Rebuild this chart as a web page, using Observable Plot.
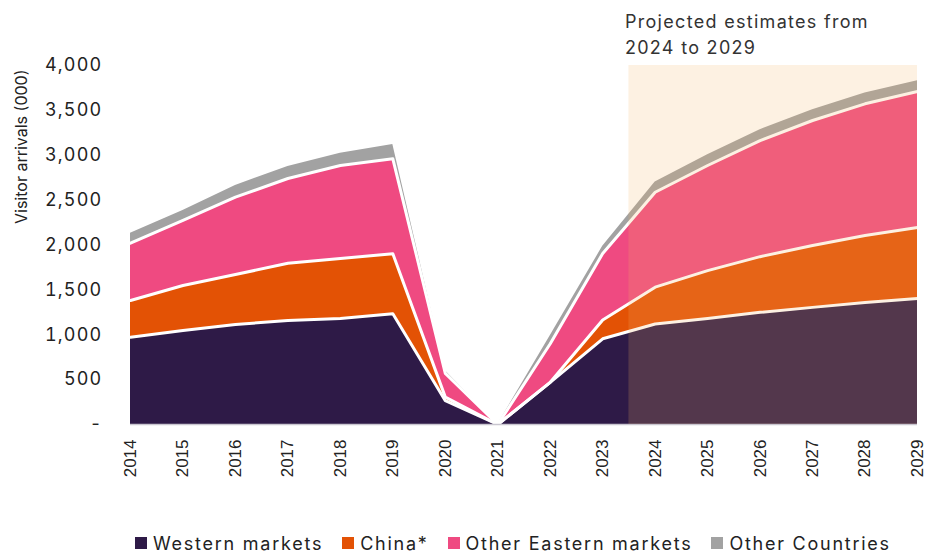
<!DOCTYPE html>
<html><head><meta charset="utf-8">
<script src="https://cdn.jsdelivr.net/npm/d3@7"></script>
<script src="https://cdn.jsdelivr.net/npm/@observablehq/plot@0.6"></script>
<style>
body{margin:0;background:#fff;font-family:Inter,"Open Sans",sans-serif;width:925px;height:553px;overflow:hidden;}
#chart{height:495px;}
#legend{display:flex;align-items:center;margin-top:38px;padding-left:135px;font-size:18px;letter-spacing:1.75px;color:#222;height:20px;}
.item{display:flex;align-items:center;margin-right:19px;}
.sw{width:12px;height:12px;margin-right:6px;display:inline-block;}
g[aria-label="y-axis tick label"] text{letter-spacing:1.2px;}
</style></head><body>
<div id="chart"></div>
<div id="legend"></div>
<script>
const years = [2014,2015,2016,2017,2018,2019,2020,2021,2022,2023,2024,2025,2026,2027,2028,2029];
const series = ["Western markets","China*","Other Eastern markets","Other Countries"];
const colors = ["#2E1A47","#E35205","#EF4A81","#A2A2A2"];
const western        = [973,1047,1114,1159,1181,1233,265,0,470,955,1120,1180,1250,1305,1360,1405];
const china          = [409,502,557,638,669,669,40,0,0,210,410,535,620,690,745,790];
const otherEastern   = [638,724,862,944,1036,1058,265,0,430,740,1058,1171,1294,1392,1468,1515];
const otherCountries = [111,111,130,134,137,160,30,0,90,80,115,120,120,120,120,120];
const yTicks = [0,500,1000,1500,2000,2500,3000,3500,4000];
const yLabel = ["Visitor arrivals (000)"];
const projection = [{start:2023.5, end:2029}];
const annotation = [{x:2023.5, y:4000, text:"Projected estimates from\n2024 to 2029"}];

const values = [western, china, otherEastern, otherCountries];
const data = series.flatMap((s,i) => years.map((yr,j) => ({year:yr, series:s, value:values[i][j]})));

const plot = Plot.plot({
  width:925, height:495,
  marginLeft:130, marginRight:8, marginTop:65, marginBottom:71,
  style:{fontFamily:"Inter, 'Open Sans', sans-serif", fontSize:"17px", color:"#222", background:"transparent", overflow:"visible"},
  x:{domain:[2014,2029], label:null},
  y:{domain:[0,4000], label:null},
  color:{domain:series, range:colors},
  marks:[
    Plot.areaY(data, {x:"year", y:"value", z:"series", fill:"series", order:series}),
    Plot.lineY(data.filter(d => d.series !== "Other Countries"),
      Plot.stackY2({x:"year", y:"value", z:"series", order:series, stroke:"white", strokeWidth:3})),
    Plot.ruleY([0], {stroke:"#c9c6d0", strokeWidth:1.5}),
    Plot.rect(projection, {x1:"start", x2:"end", y1:0, y2:4000, fill:"rgb(244,181,102)", fillOpacity:0.19}),
    Plot.axisX({ticks:years, tickFormat:d => String(d), tickRotate:-90, tickSize:0, tickPadding:15,
      fontSize:17, fontFamily:"'Liberation Sans', Arial, sans-serif", fill:"#222", label:null}),
    Plot.axisY({ticks:yTicks, tickFormat:d => d === 0 ? "-" : d3.format(",")(d), tickSize:0, tickPadding:28,
      fontSize:18, fill:"#222", label:null}),
    Plot.text(yLabel, {text:d => d, frameAnchor:"left", rotate:-90, dx:-109, dy:-21, fontSize:16, fill:"#222"}),
    Plot.text(annotation, {x:"x", y:"y", text:"text", textAnchor:"start", lineAnchor:"bottom", dx:-4, dy:-12,
      fontSize:18, lineHeight:1.4, fill:"#333"})
  ]
});
d3.select(plot).selectAll("text")
  .filter(function(){ return this.textContent.indexOf("Projected") === 0; })
  .style("letter-spacing", "1.3px");
document.getElementById("chart").appendChild(plot);

const legend = document.getElementById("legend");
series.forEach((s,i) => {
  const it = document.createElement("div");
  it.className = "item";
  it.innerHTML = `<span class="sw" style="background:${colors[i]}"></span><span>${s}</span>`;
  legend.appendChild(it);
});
</script>
</body></html>
